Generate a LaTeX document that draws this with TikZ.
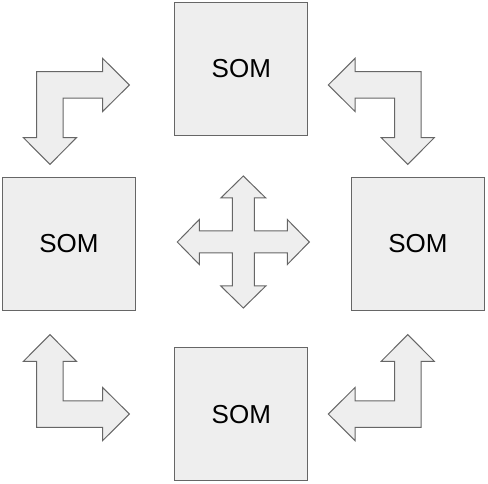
\documentclass[tikz,border=0pt]{standalone}
\usepackage{fontspec}
\setmainfont{Liberation Sans}
\usepackage{tikz}

\definecolor{somfill}{HTML}{EEEEEE}
\definecolor{somline}{HTML}{666666}

\tikzset{
  som/.style={rectangle,draw=somline,fill=somfill,line width=1pt,
    minimum size=133pt,inner sep=0pt,font=\fontsize{26}{30}\selectfont},
  blockarrow/.style={draw=somline,fill=somfill,line width=1pt,line join=miter}
}

% bent block arrow, outer corner at the origin, arms to the right and down
\newcommand{\bentpath}{(0,0) -- (66,0) -- (66,-13.25) -- (92.7,13.25) -- (66,39.75)
  -- (66,26.5) -- (26.5,26.5) -- (26.5,66) -- (39.75,66) -- (13.25,92.7)
  -- (-13.25,66) -- (0,66) -- cycle}

\begin{document}
\begin{tikzpicture}[x=1pt,y=-1pt]
\useasboundingbox (0,0) rectangle (488,484);
% Maps
\node[som] (somtop) at (241.3,68.7) {SOM};
\node[som] (somleft) at (69,243.8) {SOM};
\node[som] (somright) at (418,243.8) {SOM};
\node[som] (sombottom) at (241.3,414.2) {SOM};
% Bent arrows
\begin{scope}[shift={(36.7,71.7)}]
\draw[blockarrow] \bentpath;
\end{scope}
\begin{scope}[shift={(421,71.7)},xscale=-1]
\draw[blockarrow] \bentpath;
\end{scope}
\begin{scope}[shift={(36.7,427.3)},yscale=-1]
\draw[blockarrow] \bentpath;
\end{scope}
\begin{scope}[shift={(421,427.3)},xscale=-1,yscale=-1]
\draw[blockarrow] \bentpath;
\end{scope}
% Cross arrow
\begin{scope}[shift={(243.3,242)}]
\draw[blockarrow] (0,-66) -- (22.5,-44) -- (11,-44) -- (11,-11) -- (44,-11)
  -- (44,-22.5) -- (66,0) -- (44,22.5) -- (44,11) -- (11,11) -- (11,44)
  -- (22.5,44) -- (0,66) -- (-22.5,44) -- (-11,44) -- (-11,11) -- (-44,11)
  -- (-44,22.5) -- (-66,0) -- (-44,-22.5) -- (-44,-11) -- (-11,-11)
  -- (-11,-44) -- (-22.5,-44) -- cycle;
\end{scope}
\end{tikzpicture}
\end{document}
